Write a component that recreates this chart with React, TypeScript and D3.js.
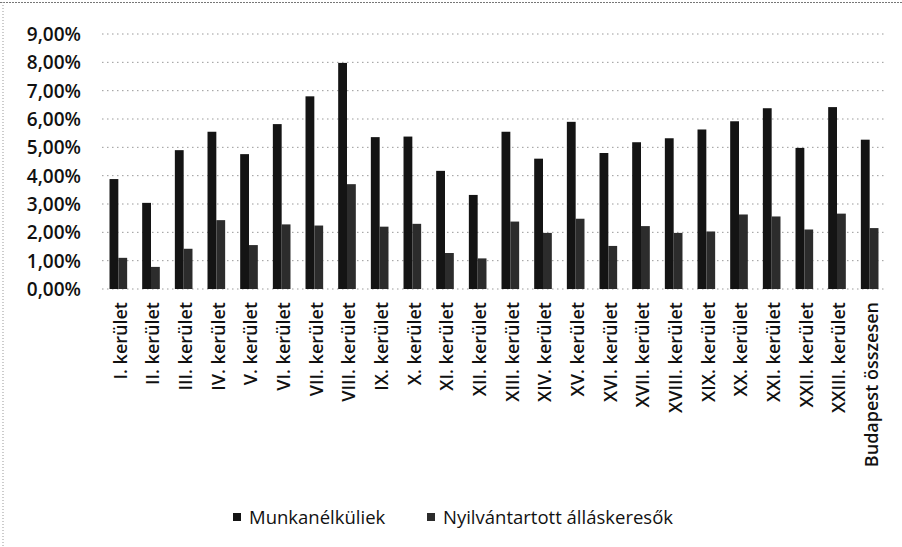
import React from "react";
import * as d3 from "d3";

const categories = [
  "I. kerület", "II. kerület", "III. kerület", "IV. kerület", "V. kerület",
  "VI. kerület", "VII. kerület", "VIII. kerület", "IX. kerület", "X. kerület",
  "XI. kerület", "XII. kerület", "XIII. kerület", "XIV. kerület", "XV. kerület",
  "XVI. kerület", "XVII. kerület", "XVIII. kerület", "XIX. kerület", "XX. kerület",
  "XXI. kerület", "XXII. kerület", "XXIII. kerület", "Budapest összesen",
];

const seriesNames = ["Munkanélküliek", "Nyilvántartott álláskeresők"];

const munkanelkuliek = [
  3.88, 3.04, 4.9, 5.55, 4.76, 5.82, 6.8, 7.98, 5.36, 5.38, 4.17, 3.32,
  5.55, 4.6, 5.9, 4.8, 5.18, 5.32, 5.63, 5.92, 6.38, 4.98, 6.42, 5.27,
];

const allaskeresok = [
  1.1, 0.78, 1.42, 2.43, 1.55, 2.28, 2.24, 3.7, 2.2, 2.3, 1.27, 1.08,
  2.38, 1.98, 2.48, 1.52, 2.22, 1.98, 2.03, 2.63, 2.56, 2.1, 2.66, 2.15,
];

const yTicks = [0, 1, 2, 3, 4, 5, 6, 7, 8, 9];

const colors = ["#141414", "#2c2c2c"];

const W = 902;
const H = 547;
const left = 102;
const right = 886;
const top = 34;
const bottom = 289;

export default function App() {
  const x = d3.scaleBand<string>().domain(categories).range([left, right]).paddingInner(0.46).paddingOuter(0.23);
  const xs = d3.scaleBand<number>().domain([0, 1]).range([0, x.bandwidth()]);
  const y = d3.scaleLinear().domain([0, 9]).range([bottom, top]);
  const fmt = (v: number) => v.toFixed(2).replace(".", ",") + "%";
  const series = [munkanelkuliek, allaskeresok];
  const font = "'Open Sans', 'Liberation Sans', sans-serif";

  return (
    <svg width={W} height={H} style={{ position: "absolute", left: 0, top: 0, background: "#fff" }} fontFamily={font}>
      {/* scanned frame */}
      <line x1={0} x2={W} y1={2.5} y2={2.5} stroke="#777" strokeDasharray="2,1" />
      <line x1={3} x2={3} y1={2} y2={H} stroke="#999" strokeDasharray="1,2" />

      {yTicks.map((t) => (
        <g key={t}>
          <line x1={left} x2={right} y1={y(t)} y2={y(t)} stroke="#999" strokeDasharray="1.5,3.5" />
          <text x={81} y={y(t)} dy="0.36em" textAnchor="end" fontSize={19} fontWeight={600} fill="#111">
            {fmt(t)}
          </text>
        </g>
      ))}

      {categories.map((c, i) => (
        <g key={c}>
          {series.map((s, j) => (
            <rect
              key={j}
              x={(x(c) ?? 0) + (xs(j) ?? 0)}
              y={y(s[i])}
              width={xs.bandwidth()}
              height={y(0) - y(s[i])}
              fill={colors[j]}
            />
          ))}
          <text
            transform={`translate(${(x(c) ?? 0) + x.bandwidth() / 2 + 2},302) rotate(-90)`}
            textAnchor="end"
            dy="0.36em"
            fontSize={18}
            fontWeight={600}
            fill="#111"
          >
            {c}
          </text>
        </g>
      ))}

      <g transform="translate(233,517)">
        <rect x={0} y={-4} width={8} height={8} fill={colors[0]} />
        <text x={16} dy="0.36em" fontSize={18.5} fill="#111">{seriesNames[0]}</text>
        <rect x={194} y={-4} width={8} height={8} fill={colors[1]} />
        <text x={210} dy="0.36em" fontSize={18.5} fill="#111">{seriesNames[1]}</text>
      </g>
    </svg>
  );
}
